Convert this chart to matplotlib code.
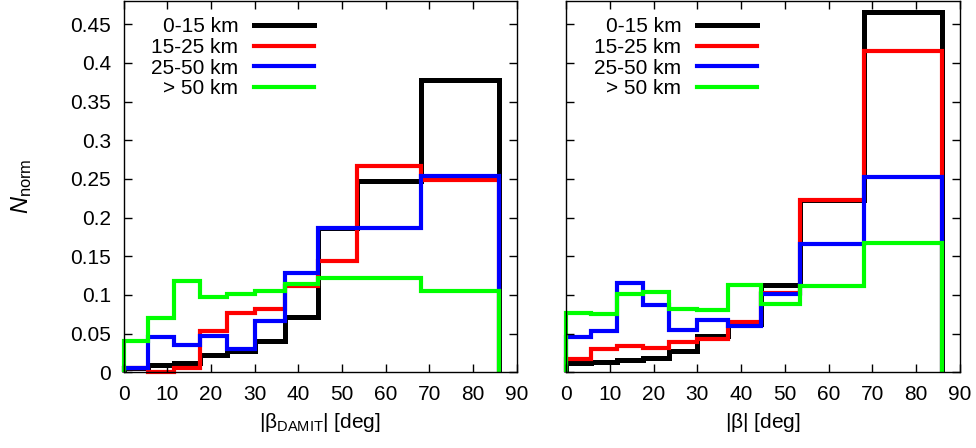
import matplotlib
matplotlib.use("Agg")
from matplotlib import pyplot as plt

plt.rcParams['font.family'] = ['Liberation Sans', 'DejaVu Sans']
plt.rcParams['mathtext.fontset'] = 'custom'
plt.rcParams['mathtext.rm'] = 'Liberation Sans'
plt.rcParams['mathtext.it'] = 'Liberation Sans:italic'

# bin edges in degrees (same for both panels)
edges = [0, 5.7, 11.5, 17.5, 23.6, 30.0, 36.9, 44.5, 53.5, 68.0, 86.0]

labels = ["0-15 km", "15-25 km", "25-50 km", "> 50 km"]
colors = ["#000000", "#ff0000", "#0000ff", "#00ff00"]
widths = [3.6, 3.0, 3.0, 3.0]

# left panel: |beta_DAMIT|
damit_0_15 = [0.006, 0.009, 0.0125, 0.022, 0.027, 0.040, 0.071, 0.186, 0.247, 0.378]
damit_15_25 = [0.006, 0.0, 0.006, 0.054, 0.076, 0.082, 0.111, 0.144, 0.267, 0.248]
damit_25_50 = [0.006, 0.046, 0.035, 0.047, 0.030, 0.066, 0.129, 0.186, 0.186, 0.254]
damit_50 = [0.040, 0.070, 0.118, 0.097, 0.101, 0.105, 0.114, 0.122, 0.122, 0.105]

# right panel: |beta|
beta_0_15 = [0.012, 0.013, 0.016, 0.018, 0.028, 0.047, 0.062, 0.113, 0.223, 0.466]
beta_15_25 = [0.017, 0.030, 0.0345, 0.032, 0.039, 0.043, 0.0655, 0.102, 0.223, 0.415]
beta_25_50 = [0.045, 0.053, 0.115, 0.087, 0.055, 0.067, 0.060, 0.101, 0.166, 0.252]
beta_50 = [0.077, 0.0755, 0.101, 0.104, 0.082, 0.080, 0.113, 0.088, 0.112, 0.167]

left_sets = [damit_0_15, damit_15_25, damit_25_50, damit_50]
right_sets = [beta_0_15, beta_15_25, beta_25_50, beta_50]

yticks = [0, 0.05, 0.1, 0.15, 0.2, 0.25, 0.3, 0.35, 0.4, 0.45]
ytick_labels = ["0", "0.05", "0.1", "0.15", "0.2", "0.25", "0.3", "0.35", "0.4", "0.45"]

fig = plt.figure(figsize=(9.76, 4.48), dpi=100)
ax1 = fig.add_axes([0.1266, 0.169, 0.4028, 0.8288])
ax2 = fig.add_axes([0.5802, 0.169, 0.4031, 0.8288])

for ax, sets in [(ax1, left_sets), (ax2, right_sets)]:
    for vals, c, lab, lw in zip(sets, colors, labels, widths):
        st = ax.stairs(vals, edges, baseline=0, color=c, lw=lw, label=lab)
        st.set_clip_on(False)
        st.set_joinstyle('miter')
    ax.set_xlim(0, 90)
    ax.set_ylim(0, 0.48)
    ax.set_xticks(range(0, 91, 10))
    ax.set_yticks(yticks)
    ax.tick_params(direction='in', length=6, width=1, top=True, right=True,
                   labelsize=15, pad=9)
    for s in ax.spines.values():
        s.set_linewidth(1.0)
    ax.legend(loc='upper right', bbox_to_anchor=(0.517, 0.99), frameon=False,
              markerfirst=False, fontsize=15, handlelength=2.9,
              handletextpad=0.75, labelspacing=0.08, borderaxespad=0.2,
              borderpad=0.4)

ax1.set_yticklabels(ytick_labels)
ax2.set_yticklabels([])

ax1.set_ylabel(r"$N_\mathrm{norm}$", fontsize=17)
ax1.yaxis.set_label_coords(-0.228, 0.5)
ax1.set_xlabel(r"|$\mathrm{\beta}_\mathrm{DAMIT}$| [deg]", fontsize=15, labelpad=5)
ax2.set_xlabel(r"|$\mathrm{\beta}$| [deg]", fontsize=15, labelpad=5)

fig.savefig("out.png", dpi=100)
